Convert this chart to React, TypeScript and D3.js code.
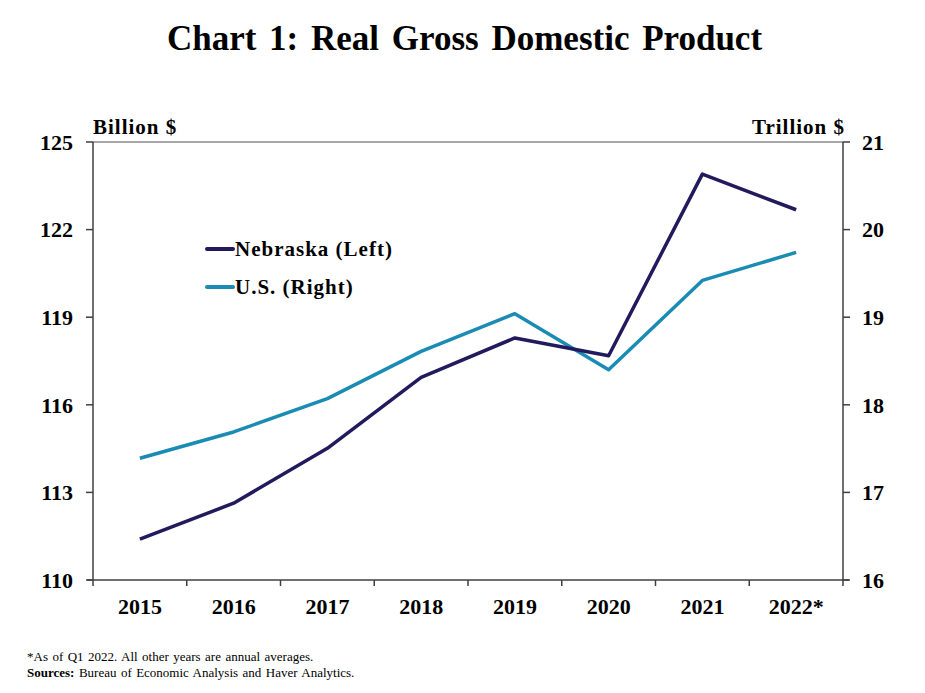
import React, { useEffect, useRef } from 'react';
import * as d3 from 'd3';

const years = ['2015', '2016', '2017', '2018', '2019', '2020', '2021', '2022*'];
const nebraska = [111.4, 112.63, 114.51, 116.94, 118.29, 117.68, 123.9, 122.68];
const us = [17.39, 17.69, 18.07, 18.61, 19.04, 18.4, 19.42, 19.74];
const leftTicks = [110, 113, 116, 119, 122, 125];
const rightTicks = [16, 17, 18, 19, 20, 21];

const W = 925;
const H = 693;
const FONT = '"Liberation Serif", "Times New Roman", serif';
const NAVY = '#211a5c';
const TEAL = '#1a8cb3';

const App: React.FC = () => {
  const ref = useRef<SVGSVGElement>(null);

  useEffect(() => {
    if (!ref.current) return;
    const svg = d3.select(ref.current);
    svg.selectAll('*').remove();

    const margin = { top: 142, right: 82, bottom: 113, left: 93 };
    const x0 = margin.left;
    const x1 = W - margin.right;
    const y0 = H - margin.bottom;
    const y1 = margin.top;

    const x = d3.scaleBand<string>().domain(years).range([x0, x1]).padding(0);
    const yL = d3.scaleLinear().domain([110, 125]).range([y0, y1]);
    const yR = d3.scaleLinear().domain([16, 21]).range([y0, y1]);
    const cx = (d: string) => (x(d) ?? 0) + x.bandwidth() / 2;

    svg.append('rect').attr('width', W).attr('height', H).attr('fill', '#fff');

    svg.append('text')
      .attr('x', W / 2 + 2)
      .attr('y', 50)
      .attr('text-anchor', 'middle')
      .style('font-family', FONT)
      .style('font-weight', 'bold')
      .style('font-size', '35px')
      .style('word-spacing', '4px')
      .text('Chart 1: Real Gross Domestic Product');

    // frame
    svg.append('line')
      .attr('x1', x0).attr('x2', x1).attr('y1', y1).attr('y2', y1)
      .attr('stroke', '#8a8a8a').attr('stroke-width', 1.5);

    const axisColor = '#404040';
    svg.append('line').attr('x1', x0).attr('x2', x0).attr('y1', y1).attr('y2', y0)
      .attr('stroke', axisColor).attr('stroke-width', 1.5);
    svg.append('line').attr('x1', x1).attr('x2', x1).attr('y1', y1).attr('y2', y0)
      .attr('stroke', axisColor).attr('stroke-width', 1.5);
    svg.append('line').attr('x1', x0 - 6).attr('x2', x1 + 6).attr('y1', y0).attr('y2', y0)
      .attr('stroke', axisColor).attr('stroke-width', 1.5);

    const tickStyle = (sel: d3.Selection<SVGTextElement, unknown, null, undefined>) =>
      sel.style('font-family', FONT).style('font-weight', 'bold').style('font-size', '22px');

    // left axis
    leftTicks.forEach(t => {
      svg.append('line')
        .attr('x1', x0 - 7).attr('x2', x0).attr('y1', yL(t)).attr('y2', yL(t))
        .attr('stroke', axisColor).attr('stroke-width', 1.5);
      svg.append('text')
        .attr('x', x0 - 20).attr('y', yL(t)).attr('dy', '0.35em')
        .attr('text-anchor', 'end')
        .call(tickStyle)
        .text(t);
    });

    // right axis
    rightTicks.forEach(t => {
      svg.append('line')
        .attr('x1', x1).attr('x2', x1 + 7).attr('y1', yR(t)).attr('y2', yR(t))
        .attr('stroke', axisColor).attr('stroke-width', 1.5);
      svg.append('text')
        .attr('x', x1 + 19).attr('y', yR(t)).attr('dy', '0.35em')
        .attr('text-anchor', 'start')
        .call(tickStyle)
        .text(t);
    });

    // bottom ticks at band edges
    [...years.map(d => x(d) ?? 0), x1].forEach(px => {
      svg.append('line')
        .attr('x1', px).attr('x2', px).attr('y1', y0).attr('y2', y0 + 6)
        .attr('stroke', axisColor).attr('stroke-width', 1.5);
    });
    years.forEach(d => {
      svg.append('text')
        .attr('x', cx(d)).attr('y', y0 + 34)
        .attr('text-anchor', 'middle')
        .call(tickStyle)
        .text(d);
    });

    // unit labels
    svg.append('text')
      .attr('x', x0).attr('y', 134)
      .style('font-family', FONT).style('font-weight', 'bold').style('font-size', '21px')
      .style('letter-spacing', '1px')
      .text('Billion $');
    svg.append('text')
      .attr('x', x1 + 2).attr('y', 134)
      .attr('text-anchor', 'end')
      .style('font-family', FONT).style('font-weight', 'bold').style('font-size', '21px')
      .style('letter-spacing', '1px')
      .text('Trillion $');

    // lines
    const lineL = d3.line<number>().x((_, i) => cx(years[i])).y(d => yL(d));
    const lineR = d3.line<number>().x((_, i) => cx(years[i])).y(d => yR(d));

    svg.append('path')
      .attr('d', lineR(us))
      .attr('fill', 'none').attr('stroke', TEAL).attr('stroke-width', 3.5)
      .attr('stroke-linejoin', 'round');
    svg.append('path')
      .attr('d', lineL(nebraska))
      .attr('fill', 'none').attr('stroke', NAVY).attr('stroke-width', 3.5)
      .attr('stroke-linejoin', 'round');

    // legend
    const legend = [
      { label: 'Nebraska (Left)', color: NAVY },
      { label: 'U.S. (Right)', color: TEAL },
    ];
    legend.forEach((l, i) => {
      const ly = 249 + i * 38;
      svg.append('line')
        .attr('x1', 207).attr('x2', 233).attr('y1', ly).attr('y2', ly)
        .attr('stroke', l.color).attr('stroke-width', 4).attr('stroke-linecap', 'round');
      svg.append('text')
        .attr('x', 235).attr('y', ly).attr('dy', '0.33em')
        .style('font-family', FONT).style('font-weight', 'bold').style('font-size', '21px')
        .style('letter-spacing', '1px')
        .text(l.label);
    });

    // footnotes
    svg.append('text')
      .attr('x', 27).attr('y', 661)
      .style('font-family', FONT).style('font-size', '13px').style('word-spacing', '1.2px')
      .text('*As of Q1 2022. All other years are annual averages.');
    const src = svg.append('text')
      .attr('x', 27).attr('y', 677)
      .style('font-family', FONT).style('font-size', '13px').style('word-spacing', '1.2px');
    src.append('tspan').style('font-weight', 'bold').text('Sources:');
    src.append('tspan').text(' Bureau of Economic Analysis and Haver Analytics.');
  }, []);

  return (
    <svg
      ref={ref}
      width={W}
      height={H}
      style={{ position: 'absolute', left: 0, top: 0, display: 'block' }}
    />
  );
};

export default App;
